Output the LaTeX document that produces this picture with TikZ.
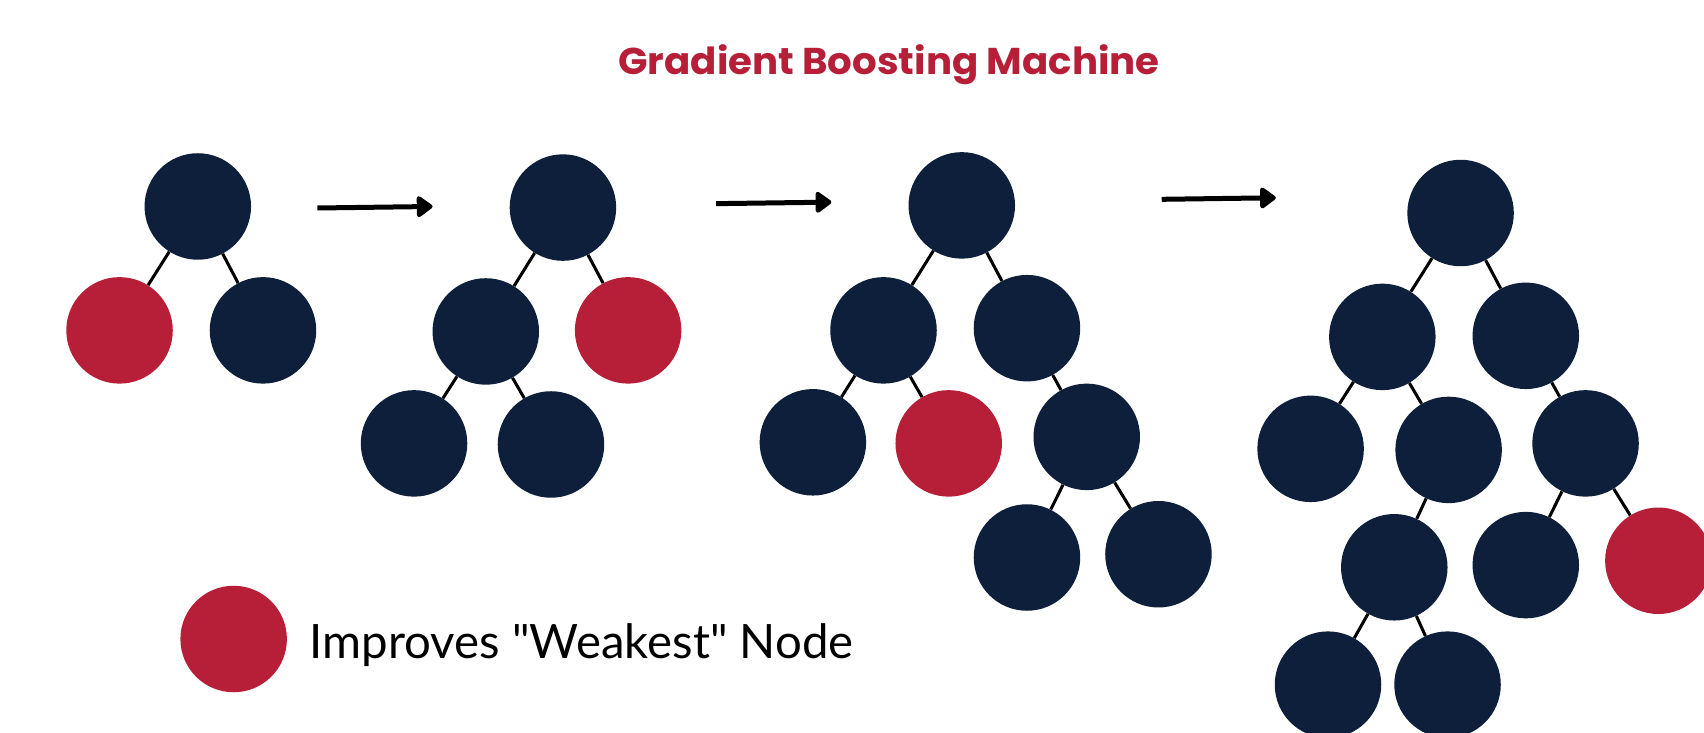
\documentclass[tikz,border=0pt]{standalone}
\usepackage{fontspec}
\setmainfont{Poppins}
\newfontfamily\legendfont{Lato}
\usetikzlibrary{arrows.meta}
\definecolor{gbred}{HTML}{B71F38}
\definecolor{gbnavy}{HTML}{0D1F3A}
\tikzset{
  tn/.style={circle, fill=gbnavy, minimum size=98pt, inner sep=0pt},
  tr/.style={circle, fill=gbred, minimum size=98pt, inner sep=0pt},
  edge/.style={draw=black, line width=2.8pt},
  flow/.style={draw=black, line width=4.6pt, -{Triangle[length=16pt,width=22pt,round]}},
}
\begin{document}
\begin{tikzpicture}[x=1pt,y=-1pt]
\useasboundingbox (0,0) rectangle (1568,674);
\clip (0,0) rectangle (1568,674);
\fill[white] (0,0) rectangle (1568,674);
% title
\node[anchor=base, inner sep=0pt, text=gbred] (title) at (818,68.5)
  {\resizebox{498pt}{27.5pt}{\bfseries Gradient Boosting Machine}};
% tree 1
\node[tn] (t1r) at (182,190) {};
\node[tr] (t1a) at (110,304) {};
\node[tn] (t1b) at (242,304) {};
\draw[edge] (t1r) -- (t1a); \draw[edge] (t1r) -- (t1b);
% tree 2
\node[tn] (t2r) at (518,191) {};
\node[tn] (t2a) at (447,305) {};
\node[tr] (t2b) at (578,304) {};
\node[tn] (t2c) at (381,408) {};
\node[tn] (t2d) at (507,409) {};
\draw[edge] (t2r) -- (t2a); \draw[edge] (t2r) -- (t2b);
\draw[edge] (t2a) -- (t2c); \draw[edge] (t2a) -- (t2d);
% tree 3
\node[tn] (t3r) at (885,189) {};
\node[tn] (t3a) at (813,304) {};
\node[tn] (t3b) at (945,302) {};
\node[tn] (t3c) at (748,407) {};
\node[tr] (t3d) at (873,408) {};
\node[tn] (t3e) at (1000,402) {};
\node[tn] (t3f) at (945,513) {};
\node[tn] (t3g) at (1066,510) {};
\draw[edge] (t3r) -- (t3a); \draw[edge] (t3r) -- (t3b);
\draw[edge] (t3a) -- (t3c); \draw[edge] (t3a) -- (t3d);
\draw[edge] (t3b) -- (t3e);
\draw[edge] (t3e) -- (t3f); \draw[edge] (t3e) -- (t3g);
% tree 4
\node[tn] (t4r) at (1344,196) {};
\node[tn] (t4a) at (1272,310) {};
\node[tn] (t4b) at (1404,309) {};
\node[tn] (t4c) at (1206,413) {};
\node[tn] (t4d) at (1333,414) {};
\node[tn] (t4e) at (1459,408) {};
\node[tn] (t4f) at (1283,522) {};
\node[tn] (t4g) at (1404,520) {};
\node[tr] (t4h) at (1526,516) {};
\node[tn] (t4i) at (1222,630) {};
\node[tn] (t4j) at (1332,630) {};
\draw[edge] (t4r) -- (t4a); \draw[edge] (t4r) -- (t4b);
\draw[edge] (t4a) -- (t4c); \draw[edge] (t4a) -- (t4d);
\draw[edge] (t4b) -- (t4e);
\draw[edge] (t4d) -- (t4f);
\draw[edge] (t4e) -- (t4g); \draw[edge] (t4e) -- (t4h);
\draw[edge] (t4f) -- (t4i); \draw[edge] (t4f) -- (t4j);
% arrows
\coordinate (a1s) at (292,191.4); \coordinate (a1e) at (398,190);
\coordinate (a2s) at (659,187.4); \coordinate (a2e) at (765,186);
\coordinate (a3s) at (1069,183.4); \coordinate (a3e) at (1174,182);
\draw[flow] (a1s) -- (a1e);
\draw[flow] (a2s) -- (a2e);
\draw[flow] (a3s) -- (a3e);
% legend
\node[tr] (leg) at (215,588) {};
\node[anchor=base west, inner sep=0pt] (legtext) at (285,605.5)
  {\resizebox{500pt}{!}{\legendfont Improves "Weakest" Node}};
\end{tikzpicture}
\end{document}
